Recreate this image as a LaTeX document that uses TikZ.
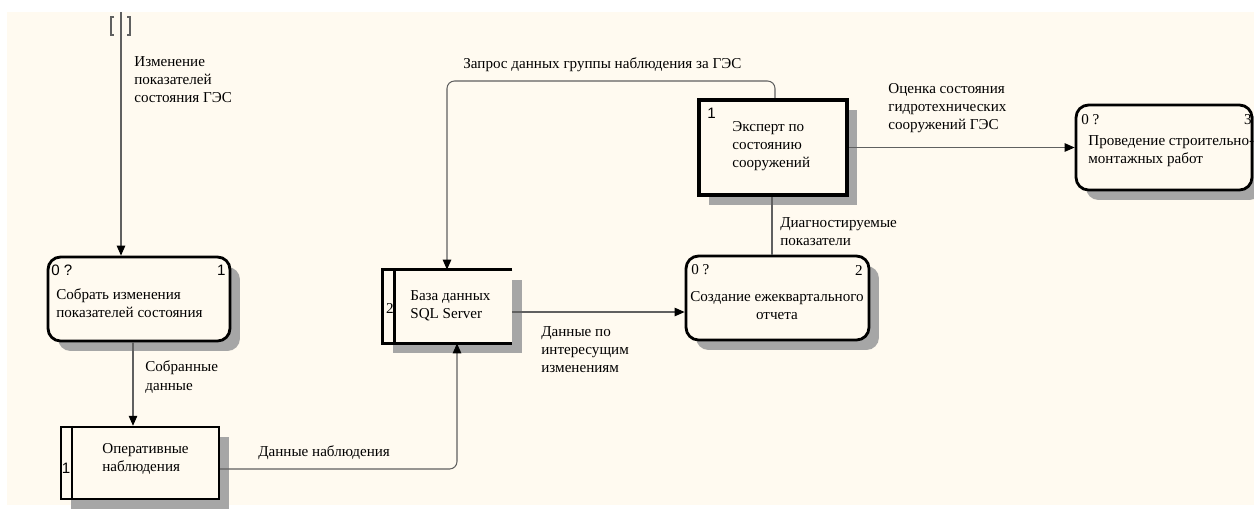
\documentclass[tikz,border=0pt]{standalone}
\usepackage{fontspec}
\setmainfont{Liberation Serif}
\setsansfont{Liberation Sans}
\usetikzlibrary{arrows.meta,shadows,calc}
\definecolor{cream}{RGB}{255,250,240}
\definecolor{flowgray}{RGB}{96,96,96}

\begin{document}
\begin{tikzpicture}[x=0.02cm, y=-0.02cm,
		txt/.style={inner sep=0pt, font=\fontsize{8.6}{10.3}\selectfont, align=left},
		num/.style={inner sep=0pt, font=\sffamily\fontsize{8.6}{10.3}\selectfont},
		boxshadow/.style={drop shadow={shadow xshift=0.2cm, shadow yshift=-0.2cm, fill=black!35, opacity=1}},
		proc/.style={draw, line width=1.6pt, rounded corners=0.25cm, fill=cream, boxshadow, inner sep=0pt},
		store/.style={fill=cream, boxshadow, inner sep=0pt},
		ext/.style={draw, line width=2.4pt, fill=cream, boxshadow, inner sep=0pt},
		flow/.style={draw=flowgray, line width=0.6pt, -{Triangle[length=0.2cm, width=0.17cm, color=black]}},
		link/.style={draw=flowgray, line width=0.6pt}]

		% Page and sheet
		\useasboundingbox (0,0) rectangle (1254,508);
		\fill[white] (0,0) rectangle (1254,508);
		\fill[cream] (7,12) rectangle (1254,505);

		% Processes
		\node[proc, minimum width=3.64cm, minimum height=1.68cm] (sobrat) at (139,299) {};
		\node[proc, minimum width=3.66cm, minimum height=1.68cm] (otchet) at (777.5,298) {};
		\node[proc, minimum width=3.52cm, minimum height=1.70cm] (rabota) at (1164,147.5) {};

		% External entity
		\node[ext, minimum width=2.96cm, minimum height=1.90cm] (ekspert) at (773,147.5) {};

		% Data stores
		\node[store, draw, line width=1.4pt, minimum width=3.16cm, minimum height=1.44cm] (opera) at (140,463) {};
		\draw[line width=1.4pt] ($(opera.north west)+(12,0)$) -- ($(opera.south west)+(12,0)$);
		\node[store, minimum width=2.58cm, minimum height=1.46cm] (baza) at (447.5,306.5) {};
		\draw[line width=1.4pt] (baza.north east) -- (baza.north west) -- (baza.south west) -- (baza.south east);
		\draw[line width=1.4pt] ($(baza.north west)+(12,0)$) -- ($(baza.south west)+(12,0)$);

		% Tunnel at the top
		\coordinate (tun) at (121,12);
		\draw[flowgray, line width=0.8pt] (114,17) -- (111,17) -- (111,35) -- (114,35);
		\draw[flowgray, line width=0.8pt] (127,17) -- (130,17) -- (130,35) -- (127,35);

		% Flows
		\draw[flow] (tun) -- (tun |- sobrat.north);
		\draw[flow] (sobrat.south -| 133,0) -- (opera.north -| 133,0);
		\draw[flow, rounded corners=0.15cm] (opera.east |- 0,469) -| (457,0 |- baza.south);
		\draw[flow, rounded corners=0.15cm] (775,0 |- ekspert.north) |- (447,81) -- (447,0 |- baza.north);
		\draw[flow] (baza.east |- 0,312) -- (otchet.west |- 0,312);
		\draw[flow] (ekspert.east) -- (rabota.west);
		\draw[link] (ekspert.south -| 772,0) -- (otchet.north -| 772,0);

		% Box texts
		\node[num, anchor=west] (sobratA) at (51,270) {0 ?};
		\node[num, anchor=east] (sobratB) at (226,270) {1};
		\node[txt, anchor=west] (sobratT) at (56,303) {Собрать изменения\\показателей состояния};

		\node[txt, anchor=west] (otchetA) at (691,270) {0 ?};
		\node[txt, anchor=east] (otchetB) at (863,270) {2};
		\node[txt, align=center] (otchetT) at (777,305.5) {Создание ежеквартального\\отчета};

		\node[txt, anchor=west] (rabotaA) at (1081,120) {0 ?};
		\node[txt, anchor=east] (rabotaB) at (1252,120) {3};
		\node[txt, anchor=west] (rabotaT) at (1088,151) {Проведение строительно-\\монтажных работ};

		\node[num, anchor=west] (ekspertA) at (707,113) {1};
		\node[txt, anchor=west] (ekspertT) at (732,146) {Эксперт по\\состоянию\\сооружений};

		\node[num] (operaA) at (66,468) {1};
		\node[txt, anchor=west] (operaT) at (102,459) {Оперативные\\наблюдения};

		\node[txt] (bazaA) at (390,308) {2};
		\node[txt, anchor=west] (bazaT) at (410,305.5) {База данных\\SQL Server};

		% Flow labels
		\node[txt, anchor=west] (lblIzm) at (134,80) {Изменение\\показателей\\состояния ГЭС};
		\node[txt, anchor=west] (lblSobr) at (145,377) {Собранные\\данные};
		\node[txt, anchor=west] (lblNabl) at (258,453) {Данные наблюдения};
		\node[txt, anchor=west] (lblIntr) at (541,350) {Данные по\\интересущим\\изменениям};
		\node[txt, anchor=west] (lblZapr) at (463,65) {Запрос данных группы наблюдения за ГЭС};
		\node[txt, anchor=west] (lblOcen) at (888,108) {Оценка состояния\\гидротехнических\\сооружений ГЭС};
		\node[txt, anchor=west] (lblDiag) at (780,232) {Диагностируемые\\показатели};
	\end{tikzpicture}
\end{document}
